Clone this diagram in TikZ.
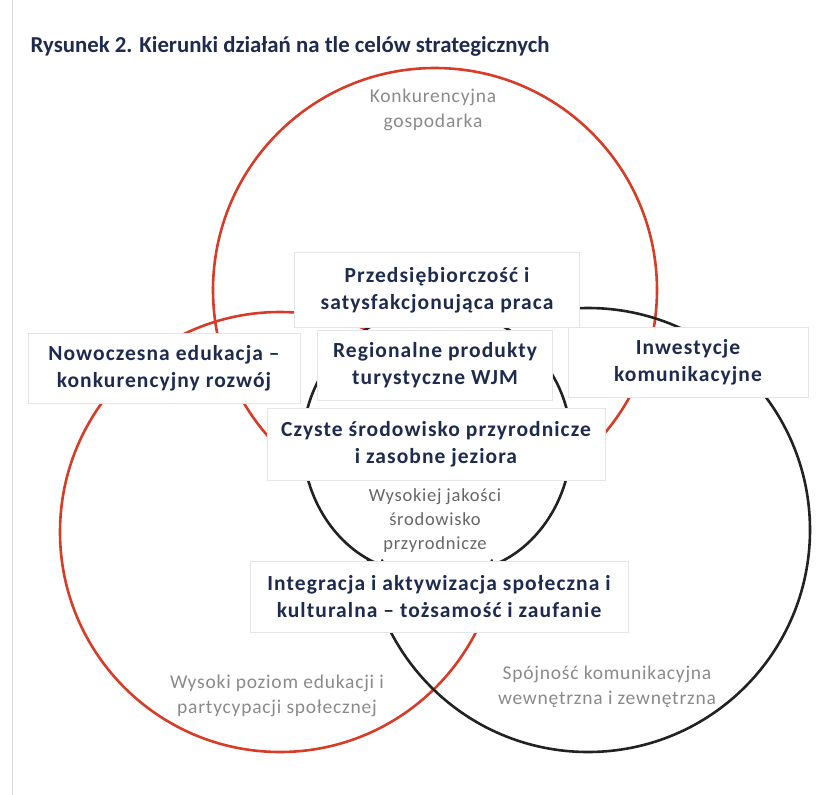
\documentclass[tikz,border=0pt]{standalone}
\usepackage{fontspec}
\setmainfont{Carlito}
\usepackage{tikz}
\usetikzlibrary{arrows.meta}
\definecolor{navy}{HTML}{1E2B4F}
\definecolor{ringred}{HTML}{D63C28}
\definecolor{ringblack}{HTML}{222222}
\definecolor{goalgray}{HTML}{8A8A8A}

\begin{document}
\begin{tikzpicture}[x=1pt,y=-1pt,
  ring/.style={line width=2.6pt},
  field/.style={fill=white,draw=black!10,line width=0.6pt,align=center,inner sep=0pt,
    text=navy,font=\fontsize{21.5}{27}\selectfont\bfseries\addfontfeatures{LetterSpace=5}},
  goal/.style={align=center,text=goalgray,
    font=\fontsize{19.5}{25}\selectfont\addfontfeatures{LetterSpace=4}}]
\useasboundingbox (0,0) rectangle (825,795);
\draw[black!15, line width=1pt] (12,0) -- (12,795);
\draw[ring, ringred] (435,290) circle[radius=222pt];
\draw[ring, ringred] (280,532) circle[radius=220pt];
\draw[ring, ringblack] (588,530) circle[radius=222pt];
\fill[white] (437,443) circle[radius=134pt];
\draw[ring, ringblack, -{Triangle[length=10pt,width=12pt]}] (437,309) arc[start angle=90, end angle=249, radius=134pt];
\draw[ring, ringblack, -{Triangle[length=10pt,width=12pt]}] (437,309) arc[start angle=90, end angle=-69, radius=134pt];
\node[anchor=base west, text=navy, font=\fontsize{22.8}{27}\selectfont\bfseries] (title) at (27,52)
  {Rysunek 2. Kierunki działań na tle celów strategicznych};
\node[goal] (econ) at (433,110) {Konkurencyjna\\gospodarka};
\node[goal, font=\fontsize{18.5}{24}\selectfont\addfontfeatures{LetterSpace=4}, text=black!60] (env) at (435,521) {Wysokiej jakości\\środowisko\\przyrodnicze};
\node[goal] (edu) at (277,696) {Wysoki poziom edukacji i\\partycypacji społecznej};
\node[goal] (comm) at (607,687) {Spójność komunikacyjna\\wewnętrzna i zewnętrzna};
\node[field, minimum width=285pt, minimum height=75pt] (przed) at (437,290) {Przedsiębiorczość i\\satysfakcjonująca praca};
\node[field, minimum width=272pt, minimum height=70pt] (nowo) at (164,368) {Nowoczesna edukacja --\\konkurencyjny rozwój};
\node[field, minimum width=235pt, minimum height=70pt] (region) at (435,365) {Regionalne produkty\\turystyczne WJM};
\node[field, minimum width=240pt, minimum height=70pt] (inwest) at (688,362) {Inwestycje\\komunikacyjne};
\node[field, minimum width=338pt, minimum height=72pt] (czyste) at (436,444) {Czyste środowisko przyrodnicze\\i zasobne jeziora};
\node[field, minimum width=378pt, minimum height=71pt] (integr) at (439,597) {Integracja i aktywizacja społeczna i\\kulturalna -- tożsamość i zaufanie};
\end{tikzpicture}
\end{document}
